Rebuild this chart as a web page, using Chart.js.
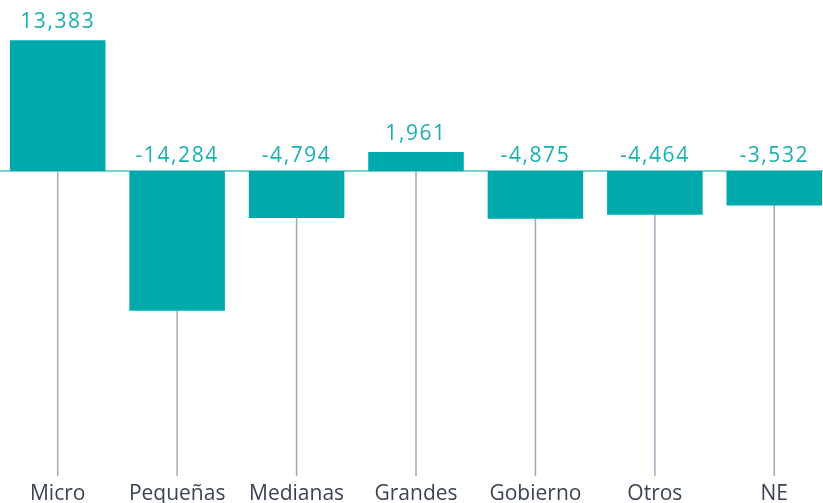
<!DOCTYPE html>
<html>
<head>
<meta charset="utf-8">
<script src="https://cdn.jsdelivr.net/npm/chart.js@4"></script>
<style>
  html, body { margin: 0; padding: 0; background: #fff; overflow: hidden; }
  #wrap { position: absolute; left: -2px; top: 0; width: 836px; height: 513px; }
</style>
</head>
<body>
<div id="wrap"><canvas id="chart"></canvas></div>
<script>
const categories = ['Micro', 'Pequeñas', 'Medianas', 'Grandes', 'Gobierno', 'Otros', 'NE'];
const values = [13383, -14284, -4794, 1961, -4875, -4464, -3532];

const teal = '#00A9AC';

// zero line + grey drop lines under each category
const guideLines = {
  id: 'guideLines',
  beforeDatasetsDraw(chart) {
    const { ctx, chartArea, scales } = chart;
    const y0 = scales.y.getPixelForValue(0);
    ctx.save();
    ctx.strokeStyle = '#9DA8B8';
    ctx.lineWidth = 1.5;
    categories.forEach((c, i) => {
      const x = scales.x.getPixelForValue(i);
      ctx.beginPath();
      ctx.moveTo(x, y0);
      ctx.lineTo(x, chartArea.bottom);
      ctx.stroke();
    });
    ctx.strokeStyle = '#4FC0C0';
    ctx.lineWidth = 1.5;
    ctx.beginPath();
    ctx.moveTo(chartArea.left, y0);
    ctx.lineTo(chartArea.right, y0);
    ctx.stroke();
    ctx.restore();
  }
};

// value labels sit above the bar, or above the zero line for negatives
const valueLabels = {
  id: 'valueLabels',
  afterDatasetsDraw(chart) {
    const { ctx, scales } = chart;
    const meta = chart.getDatasetMeta(0);
    const y0 = scales.y.getPixelForValue(0);
    ctx.save();
    ctx.font = '21px "Open Sans", sans-serif';
    ctx.letterSpacing = '1.6px';
    ctx.fillStyle = '#1BB0B0';
    ctx.textAlign = 'center';
    ctx.textBaseline = 'alphabetic';
    meta.data.forEach((bar, i) => {
      const y = values[i] >= 0 ? bar.y - 12 : y0 - 9;
      ctx.fillText(values[i].toLocaleString('en-US'), bar.x, y);
    });
    ctx.restore();
  }
};

new Chart(document.getElementById('chart'), {
  type: 'bar',
  data: {
    labels: categories,
    datasets: [
      {
        data: values,
        backgroundColor: teal,
        borderWidth: 0,
        categoryPercentage: 0.8,
        barPercentage: 1
      }
    ]
  },
  options: {
    responsive: true,
    maintainAspectRatio: false,
    animation: false,
    layout: { padding: 0 },
    plugins: {
      legend: { display: false },
      tooltip: { enabled: false }
    },
    scales: {
      x: {
        grid: { display: false, drawTicks: false },
        border: { display: false },
        ticks: {
          color: '#3A4452',
          font: { size: 21, family: '"Open Sans", sans-serif', lineHeight: 1 },
          padding: 8
        }
      },
      y: {
        display: false,
        min: -31200,
        max: 17500
      }
    }
  },
  plugins: [guideLines, valueLabels]
});
</script>
</body>
</html>
